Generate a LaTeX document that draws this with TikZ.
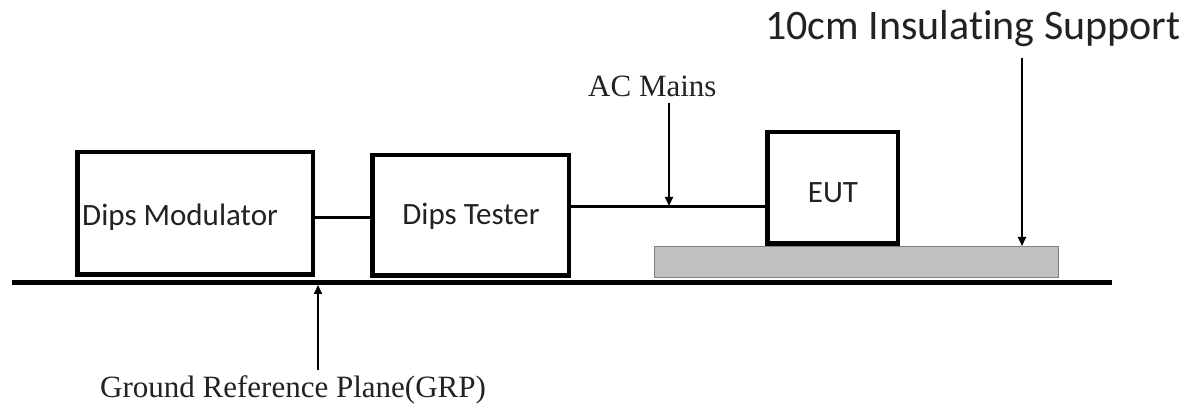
\documentclass[tikz,border=0pt]{standalone}
\usepackage{fontspec}
\setmainfont{Liberation Serif}
\newfontfamily\calib[Ligatures=CommonOff]{Carlito}
\usetikzlibrary{arrows.meta}
\definecolor{supgray}{HTML}{C0C0C0}
\definecolor{txt}{HTML}{222222}
\begin{document}
\begin{tikzpicture}[x=1pt,y=-1pt,
  devbox/.style={draw=black,line width=4.5pt,fill=white,inner sep=0pt,outer sep=0pt},
  supportbox/.style={draw=gray,line width=1pt,fill=supgray,inner sep=0pt,outer sep=0pt},
  wire/.style={line width=3pt},
  ground/.style={line width=5pt},
  pointer/.style={line width=2pt,-{Triangle[length=9pt,width=8pt]}},
  boxlabel/.style={inner sep=0pt,text=txt,font=\calib\fontsize{31}{31}\selectfont},
  biglabel/.style={inner sep=0pt,text=txt,font=\calib\fontsize{42}{42}\selectfont},
  seriflabel/.style={inner sep=0pt,text=txt,font=\fontsize{31}{31}\selectfont}]
\useasboundingbox (0,0) rectangle (1203,406);
\fill[white] (0,0) rectangle (1203,406);
% ground reference plane
\coordinate (gl) at (12,282.5);
\coordinate (gr) at (1112,282.5);
\draw[ground] (gl) -- (gr);
% support
\node[supportbox,minimum width=404pt,minimum height=31pt] (sup) at (856,262.5) {};
% boxes
\node[devbox,minimum width=235.5pt,minimum height=122.5pt] (mod) at (195,213.5) {};
\node[devbox,minimum width=196.5pt,minimum height=120.5pt] (tst) at (470.5,215.5) {};
\node[devbox,minimum width=130.5pt,minimum height=111.5pt] (eut) at (832.5,188) {};
% box texts
\node[boxlabel,anchor=base west] (modt) at (82,226) {Dips Modulator};
\node[boxlabel,anchor=base] (tstt) at (471,225) {Dips Tester};
\node[boxlabel,anchor=base] (eutt) at (833,203) {EUT};
% wires
\draw[wire] (mod.east |- {0,218}) -- (tst.west |- {0,218});
\draw[wire] (tst.east |- {0,207}) -- (eut.west |- {0,207});
% labels
\node[seriflabel,anchor=base west] (acl) at (588,97) {AC Mains};
\node[biglabel,anchor=base west] (isl) at (765,40) {10cm Insulating Support};
\node[seriflabel,anchor=base west] (grpl) at (100,397) {Ground Reference Plane(GRP)};
% pointers
\coordinate (actop) at (669,103);
\coordinate (acend) at (669,206);
\draw[pointer] (actop) -- (acend);
\coordinate (istop) at (1022,58);
\coordinate (isend) at (1022,246);
\draw[pointer] (istop) -- (isend);
\coordinate (grbot) at (318,370);
\coordinate (grend) at (318,285);
\draw[pointer] (grbot) -- (grend);
\end{tikzpicture}
\end{document}
